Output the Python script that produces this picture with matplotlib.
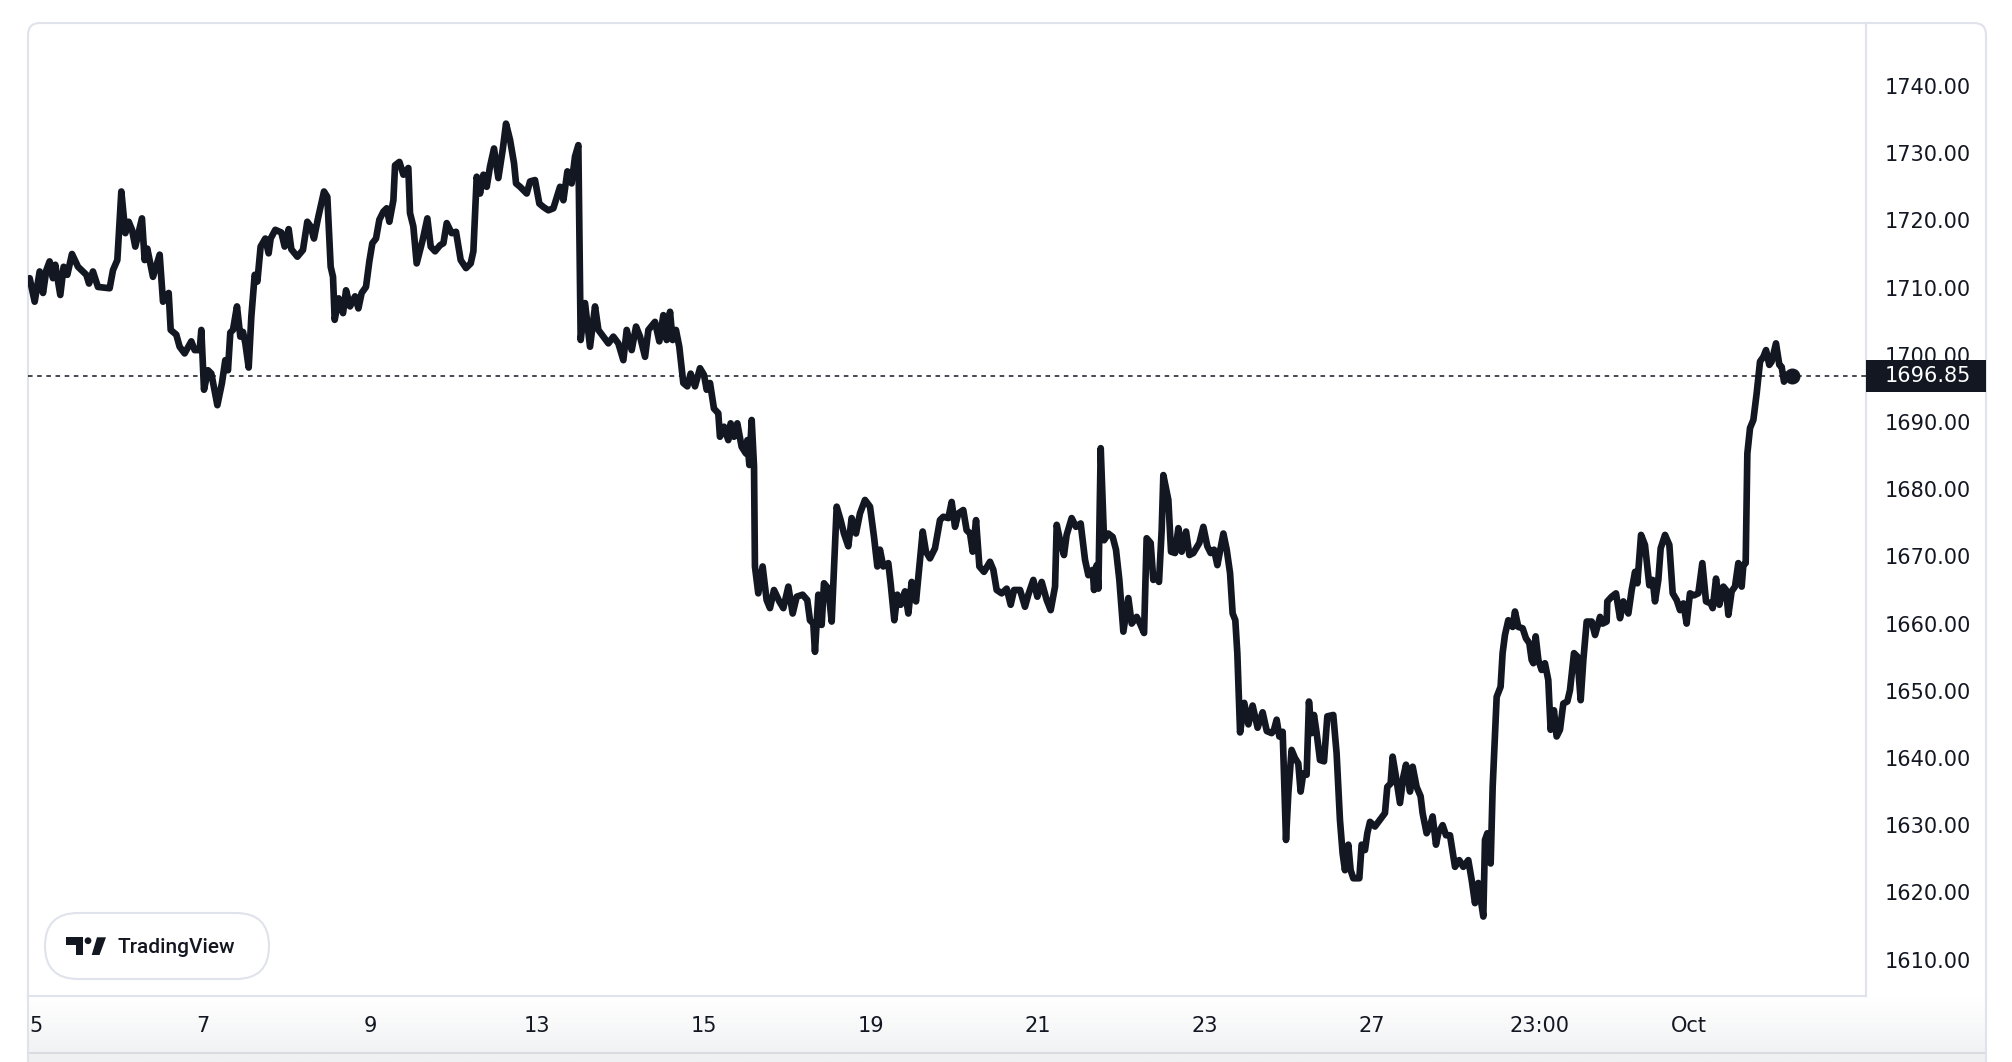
import numpy as np
import matplotlib.pyplot as plt
from matplotlib import transforms
from matplotlib.colors import LinearSegmentedColormap
from matplotlib.patches import Rectangle, FancyBboxPatch, Circle, Polygon

# trading days since Sep 5 open (weekends skipped, like the TradingView axis)
days = [
    -0.076, -0.016, 0.044, 0.084, 0.124, 0.163, 0.203, 0.231, 0.291, 0.331,
    0.375, 0.431, 0.503, 0.603, 0.635, 0.682, 0.742, 0.882, 0.922, 0.974,
    1.022, 1.070, 1.110, 1.150, 1.189, 1.269, 1.301, 1.333, 1.401, 1.481,
    1.521, 1.589, 1.613, 1.680, 1.720, 1.780, 1.860, 1.900, 1.960, 1.980,
    2.012, 2.060, 2.100, 2.172, 2.227, 2.267, 2.299, 2.327, 2.359, 2.407,
    2.447, 2.479, 2.507, 2.547, 2.579, 2.619, 2.651, 2.690, 2.746, 2.786,
    2.810, 2.866, 2.938, 2.978, 3.026, 3.058, 3.130, 3.197, 3.249, 3.289,
    3.329, 3.377, 3.449, 3.489, 3.529, 3.557, 3.577, 3.625, 3.677,
    3.713, 3.761, 3.821, 3.861, 3.900, 3.952, 3.992, 4.028, 4.072, 4.112,
    4.160, 4.200, 4.232, 4.280, 4.300, 4.352, 4.400, 4.459, 4.479, 4.519,
    4.559, 4.631, 4.687, 4.727, 4.779, 4.839, 4.879, 4.919, 4.978, 5.030,
    5.086, 5.150, 5.206, 5.238, 5.278, 5.318, 5.358, 5.398, 5.437, 5.485,
    5.537, 5.589, 5.629, 5.677, 5.725, 5.749, 5.797, 5.877, 5.917, 5.976,
    6.028, 6.076, 6.136, 6.196, 6.276, 6.316, 6.364, 6.415, 6.455, 6.495,
    6.523, 6.575, 6.635, 6.695, 6.735, 6.795, 6.855, 6.914, 6.974, 7.034,
    7.074, 7.134, 7.186, 7.234, 7.294, 7.334,
    7.413, 7.465, 7.513, 7.553, 7.593, 7.624, 7.664, 7.704, 7.752, 7.800,
    7.840, 7.892, 7.952, 8.000, 8.032, 8.072, 8.119, 8.171, 8.191, 8.239,
    8.291, 8.319, 8.359, 8.399, 8.451, 8.503, 8.519, 8.543, 8.571, 8.599,
    8.610, 8.650, 8.702, 8.750, 8.790, 8.838, 8.902, 8.950, 9.010, 9.062,
    9.110, 9.181, 9.237, 9.269, 9.309, 9.329, 9.369, 9.409, 9.437, 9.489,
    9.529, 9.589, 9.636, 9.676, 9.728, 9.768, 9.820, 9.868, 9.928, 9.988,
    10.036, 10.076, 10.107, 10.147, 10.207, 10.235, 10.279, 10.315, 10.355, 10.407,
    10.447, 10.487, 10.539, 10.579, 10.619, 10.658, 10.706, 10.766, 10.826, 10.866,
    10.926, 10.966, 11.006, 11.046, 11.105, 11.145,
    11.186, 11.218, 11.258, 11.298, 11.353, 11.425, 11.465, 11.505, 11.565, 11.625,
    11.673, 11.713, 11.785, 11.844, 11.884, 11.944, 11.992, 12.044, 12.104, 12.152,
    12.204, 12.224, 12.264, 12.311, 12.343, 12.403, 12.455, 12.511, 12.563, 12.603,
    12.655, 12.671, 12.703, 12.723, 12.751, 12.791, 12.842, 12.894, 12.934, 12.974,
    13.022, 13.082, 13.122, 13.182, 13.222, 13.270, 13.301, 13.349, 13.381, 13.421,
    13.449, 13.481, 13.501, 13.561, 13.593, 13.641, 13.681, 13.721, 13.773, 13.813,
    13.860, 13.932, 13.980, 14.028, 14.068, 14.108, 14.148, 14.220, 14.260, 14.300,
    14.331, 14.363, 14.387,
    14.42, 14.47, 14.52, 14.57, 14.63, 14.69, 14.74,
    14.798, 14.826, 14.858, 14.890, 14.930, 14.970, 14.998, 15.037, 15.077, 15.117,
    15.145, 15.177, 15.217, 15.245, 15.277, 15.305, 15.337, 15.377, 15.425, 15.465,
    15.536, 15.576, 15.616, 15.648, 15.676, 15.716, 15.744, 15.776, 15.848, 15.876,
    15.916, 15.944, 15.976, 16.035, 16.095, 16.155, 16.183, 16.223, 16.247, 16.287,
    16.335, 16.375, 16.407, 16.455, 16.487, 16.534, 16.582, 16.606, 16.654, 16.694,
    16.726, 16.766, 16.794, 16.846, 16.886, 16.934, 16.994, 17.045, 17.093, 17.153,
    17.193, 17.233, 17.273, 17.333, 17.353, 17.381, 17.421, 17.445, 17.493, 17.540,
    17.564, 17.592, 17.632, 17.684, 17.712, 17.752, 17.804, 17.844, 17.884, 17.912,
    17.932, 17.960, 17.992, 18.031, 18.071, 18.111, 18.139, 18.179, 18.211, 18.251,
    18.291, 18.339, 18.371, 18.419, 18.459, 18.499, 18.531,
    18.571, 18.631, 18.671, 18.731, 18.762, 18.810, 18.818, 18.870, 18.922, 18.970,
    19.010, 19.070, 19.110, 19.150, 19.178, 19.222, 19.269, 19.321, 19.361, 19.389,
    19.429, 19.457, 19.509, 19.561, 19.601, 19.649, 19.689, 19.729, 19.768, 19.808,
    19.856, 19.908, 19.956, 20.000, 20.056, 20.080, 20.120, 20.160, 20.208, 20.240,
    20.268, 20.307, 20.347, 20.387, 20.427, 20.447, 20.475, 20.495, 20.527, 20.567,
    20.607, 20.647, 20.687, 20.719, 20.758, 20.786, 20.838, 20.878, 20.906, 20.934,
    20.966, 21.026,
]
price = [
    1711.4, 1707.9, 1712.4, 1709.2, 1712.6, 1713.9, 1711.4, 1713.4, 1708.9, 1713.1,
    1711.9, 1715.0, 1713.1, 1711.9, 1710.6, 1712.4, 1710.1, 1709.9, 1712.6, 1714.1,
    1724.3, 1718.1, 1719.8, 1718.6, 1716.1, 1720.3, 1714.1, 1715.8, 1711.6, 1714.9,
    1707.9, 1709.2, 1703.7, 1703.0, 1701.2, 1700.2, 1702.0, 1700.7, 1700.7, 1703.7,
    1694.8, 1697.7, 1697.2, 1692.5, 1695.8, 1699.2, 1697.7, 1703.3, 1703.7, 1707.2,
    1702.7, 1703.4, 1701.7, 1698.1, 1705.7, 1711.9, 1710.9, 1716.1, 1717.3, 1715.1,
    1717.3, 1718.6, 1718.2, 1716.1, 1718.7, 1715.7, 1714.6, 1715.6, 1719.8, 1719.1,
    1717.3, 1720.3, 1724.3, 1723.5, 1713.1, 1711.6, 1705.2, 1708.4, 1706.2,
    1709.6, 1707.2, 1708.7, 1706.9, 1709.2, 1710.1, 1713.9, 1716.6, 1717.3, 1720.1,
    1721.3, 1721.8, 1719.8, 1723.0, 1728.2, 1728.7, 1726.8, 1727.8, 1721.1, 1719.1,
    1713.6, 1717.1, 1720.3, 1716.1, 1715.4, 1716.3, 1716.6, 1719.6, 1718.1, 1718.3,
    1714.1, 1712.9, 1713.6, 1715.4, 1726.5, 1724.0, 1726.8, 1725.0, 1728.0, 1730.7,
    1726.3, 1730.5, 1734.4, 1732.0, 1728.5, 1725.5, 1725.0, 1724.0, 1725.8, 1726.0,
    1722.5, 1722.0, 1721.5, 1721.8, 1725.0, 1723.0, 1727.3, 1725.5, 1729.5, 1731.2,
    1702.2, 1707.7, 1701.2, 1707.2, 1703.7, 1702.7, 1701.7, 1702.7, 1701.7, 1699.2,
    1703.7, 1700.7, 1704.2, 1702.7, 1699.7, 1703.7,
    1704.9, 1702.0, 1705.9, 1702.2, 1706.4, 1702.2, 1703.7, 1701.2, 1695.8, 1695.3,
    1697.2, 1695.3, 1698.0, 1697.0, 1694.8, 1695.8, 1692.0, 1691.3, 1687.8, 1689.3,
    1687.3, 1689.8, 1687.8, 1689.8, 1686.3, 1685.3, 1687.3, 1683.6, 1690.3, 1683.4,
    1668.5, 1664.5, 1668.5, 1663.5, 1662.3, 1665.0, 1663.3, 1662.3, 1665.5, 1661.5,
    1664.0, 1664.3, 1663.5, 1660.5, 1660.0, 1655.8, 1664.3, 1659.8, 1666.0, 1665.2,
    1660.3, 1677.4, 1675.4, 1673.4, 1671.5, 1675.7, 1673.4, 1676.4, 1678.4, 1677.4,
    1672.9, 1668.5, 1671.0, 1668.5, 1669.0, 1666.0, 1660.5, 1664.3, 1662.8, 1664.8,
    1661.5, 1666.2, 1663.3, 1668.5, 1673.7, 1670.7, 1669.7, 1671.2, 1675.4, 1675.9,
    1675.7, 1678.1, 1674.4, 1676.4, 1676.9, 1673.9,
    1673.4, 1670.7, 1675.4, 1668.5, 1667.7, 1669.2, 1668.0, 1665.0, 1664.5, 1665.2,
    1662.8, 1665.0, 1665.0, 1662.5, 1664.3, 1666.5, 1664.0, 1666.2, 1663.5, 1662.0,
    1665.5, 1674.7, 1672.4, 1670.2, 1673.2, 1675.7, 1674.4, 1674.9, 1669.5, 1667.2,
    1668.0, 1665.0, 1668.7, 1665.2, 1686.1, 1672.4, 1673.4, 1672.9, 1671.0, 1666.5,
    1658.8, 1663.8, 1660.0, 1661.0, 1660.0, 1658.6, 1672.7, 1672.0, 1666.5, 1667.0,
    1666.2, 1673.9, 1682.1, 1678.4, 1670.7, 1670.5, 1674.2, 1670.7, 1673.7, 1670.2,
    1670.5, 1672.0, 1674.4, 1671.5, 1670.5, 1671.0, 1668.7, 1673.4, 1671.0, 1667.5,
    1661.5, 1660.5, 1655.6,
    1643.8, 1648.2, 1645.0, 1647.8, 1644.5, 1646.8, 1644.0,
    1643.7, 1644.2, 1645.7, 1643.2, 1643.9, 1627.8, 1634.8, 1641.2, 1640.0, 1639.2,
    1635.0, 1637.7, 1637.5, 1648.4, 1643.7, 1646.4, 1643.7, 1639.7, 1639.5, 1646.2,
    1646.4, 1640.7, 1630.8, 1625.8, 1623.3, 1627.1, 1623.3, 1622.1, 1622.1, 1627.1,
    1626.3, 1628.8, 1630.5, 1629.8, 1630.8, 1631.8, 1635.7, 1636.2, 1640.2, 1637.2,
    1633.3, 1637.2, 1639.0, 1635.0, 1638.7, 1635.7, 1634.3, 1631.8, 1628.8, 1629.8,
    1631.3, 1627.1, 1628.8, 1630.0, 1628.5, 1628.5, 1623.8, 1624.8, 1623.8, 1624.8,
    1621.9, 1618.4, 1621.4, 1616.4, 1627.8, 1628.8, 1624.3, 1635.7, 1649.1, 1650.6,
    1655.6, 1658.3, 1660.5, 1659.5, 1661.8, 1659.5, 1659.3, 1657.8, 1657.1, 1654.6,
    1654.1, 1658.1, 1654.6, 1653.1, 1654.1, 1651.6, 1644.2, 1647.1, 1643.2, 1644.2,
    1648.1, 1648.4, 1650.1, 1655.6, 1655.1, 1648.6, 1654.6,
    1660.3, 1660.3, 1658.3, 1661.0, 1660.0, 1660.3, 1663.3, 1664.0, 1664.5, 1660.8,
    1663.3, 1661.5, 1665.0, 1667.7, 1666.0, 1673.2, 1671.7, 1665.7, 1666.5, 1663.3,
    1666.5, 1671.2, 1673.2, 1671.7, 1664.5, 1663.5, 1662.0, 1663.0, 1660.0, 1664.5,
    1664.2, 1664.5, 1669.0, 1663.3, 1663.0, 1662.3, 1666.7, 1662.8, 1665.5, 1665.0,
    1661.3, 1664.8, 1665.5, 1669.0, 1665.5, 1668.7, 1669.0, 1685.3, 1689.1, 1690.3,
    1694.3, 1699.0, 1699.7, 1700.7, 1698.5, 1699.0, 1701.7, 1698.5, 1698.2, 1696.0,
    1697.0, 1696.85,
]
last_price = 1696.85

y_ticks = [1610, 1620, 1630, 1640, 1650, 1660, 1670, 1680, 1690, 1700, 1710, 1720, 1730, 1740]
x_tick_pos = [0, 2, 4, 6, 8, 10, 12, 14, 16, 18, 19.8]
x_tick_lab = ['5', '7', '9', '13', '15', '19', '21', '23', '27', '23:00', 'Oct']

W, H = 2012, 1062
ink = '#131722'
border = '#e0e3eb'

fig = plt.figure(figsize=(W / 100, H / 100), dpi=100)
fig.patch.set_facecolor('white')

# background layer in pixel units (frame, bottom band)
bg = fig.add_axes([0, 0, 1, 1], zorder=0)
bg.axis('off')
bg.add_patch(FancyBboxPatch((28, 23), 1958, 1100, boxstyle='round,pad=0,rounding_size=12',
                            fc='white', ec='none', zorder=1))
cm = LinearSegmentedColormap.from_list('band', ['#ffffff', '#eff0f2'])
bg.imshow(np.linspace(0, 1, 64).reshape(-1, 1), cmap=cm, aspect='auto',
          extent=(28, 1986, 1062, 996), origin='upper', zorder=2)
bg.plot([28, 1866], [996, 996], color=border, lw=1.5, zorder=3)
bg.plot([1866, 1866], [23, 996], color=border, lw=1.5, zorder=3)
bg.plot([28, 1986], [1053, 1053], color='#d9dbe0', lw=1.5, zorder=3)
bg.add_patch(FancyBboxPatch((28, 23), 1958, 1100, boxstyle='round,pad=0,rounding_size=12',
                            fc='none', ec=border, lw=1.5, zorder=4))
bg.set_xlim(0, W)
bg.set_ylim(H, 0)

# price chart
ax = fig.add_axes([28 / W, 1 - 996 / H, 1838 / W, 973 / H], zorder=2)
ax.patch.set_alpha(0)
for s in ax.spines.values():
    s.set_visible(False)

ax.plot(days, price, color=ink, lw=4.8, solid_joinstyle='round', solid_capstyle='round', zorder=5)
ax.plot(days[-1], price[-1], 'o', ms=10.5, color=ink, zorder=6)
ax.axhline(last_price, color=ink, lw=1.1, ls=(0, (3, 3)), zorder=4)

ax.yaxis.tick_right()
ax.set_yticks(y_ticks, [f'{v:.2f}' for v in y_ticks])
ax.set_xticks(x_tick_pos, x_tick_lab)
ax.tick_params(axis='y', length=0, pad=13.7, labelsize=15, labelcolor=ink)
ax.tick_params(axis='x', length=0, pad=14.5, labelsize=15, labelcolor=ink)

# last price tag on the price scale
trans = transforms.blended_transform_factory(fig.transFigure, ax.transData)
ax.add_patch(Rectangle((1866 / W, last_price - 2.35), 120 / W, 4.7, transform=trans,
                       fc=ink, ec='none', clip_on=False, zorder=10))
ax.text(1885 / W, last_price, f'{last_price:.2f}', transform=trans, color='white',
        fontsize=15, ha='left', va='center', clip_on=False, zorder=11)

ax.set_xlim(-0.0958, 21.916)
ax.set_ylim(1604.58, 1749.375)

# TradingView badge
fg = fig.add_axes([0, 0, 1, 1], zorder=3)
fg.patch.set_alpha(0)
fg.axis('off')
fg.add_patch(FancyBboxPatch((45, 913), 224, 66, boxstyle='round,pad=0,rounding_size=33',
                            fc='white', ec=border, lw=1.5))
fg.add_patch(Polygon([(66, 937.3), (83.3, 937.3), (83.3, 955), (76, 955), (76, 945), (66, 945)],
                     closed=True, fc=ink, ec='none'))
fg.add_patch(Circle((88, 940.7), 3.4, fc=ink, ec='none'))
fg.add_patch(Polygon([(91.7, 955), (97, 937.3), (106, 937.3), (99.5, 955)],
                     closed=True, fc=ink, ec='none'))
fg.text(118, 953.3, 'TradingView', fontsize=15, family='Roboto', weight='medium',
        color=ink, ha='left', va='baseline')
fg.set_xlim(0, W)
fg.set_ylim(H, 0)

fig.savefig('out.png', dpi=100)
